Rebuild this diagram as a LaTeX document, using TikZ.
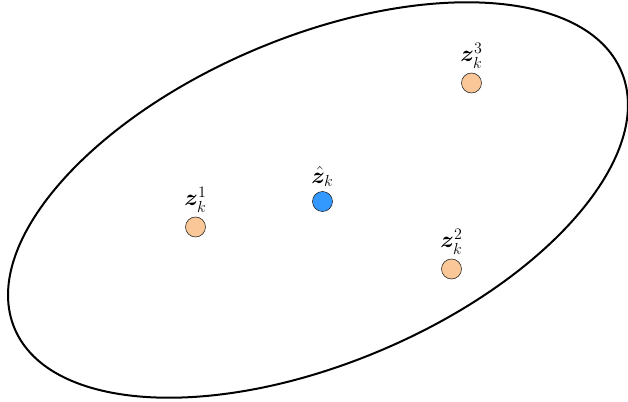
\documentclass[tikz,border=0pt]{standalone}
\usepackage{amsmath,bm}
\definecolor{peach}{HTML}{FAC898}
\definecolor{sky}{HTML}{3399FF}
\definecolor{ink}{HTML}{1A1A1A}

\begin{document}
\begin{tikzpicture}[x=0.75pt,y=0.75pt,
    pt/.style={circle,draw=ink,thin,minimum size=15pt,inner sep=0pt,
      label distance=-3pt},
    sample/.style={pt,fill=peach},
    mean/.style={pt,fill=sky},
    every label/.style={font=\fontsize{16.5}{18}\selectfont}]
  \useasboundingbox (0,0) rectangle (628,401);
  % region of the samples
  \draw[line width=1.5pt] (318,201) ellipse[x radius=329.5,y radius=163,rotate=23];

  \node[sample,label=above:{$\bm{z}_k^1$}] (z1) at (195.5,174) {};
  \node[mean,label=above:{$\hat{\bm{z}}_k$}] (zhat) at (322.5,199.5) {};
  \node[sample,label=above:{$\bm{z}_k^2$}] (z2) at (451.5,132) {};
  \node[sample,label=above:{$\bm{z}_k^3$}] (z3) at (471.5,318) {};
\end{tikzpicture}
\end{document}
